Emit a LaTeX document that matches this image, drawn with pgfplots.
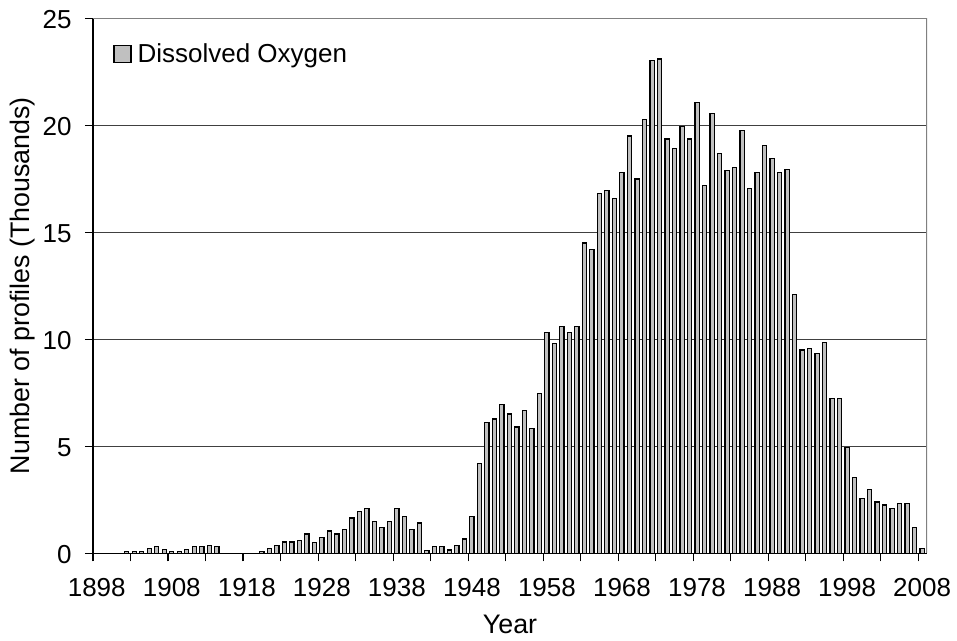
\documentclass[border=0pt]{standalone}
\usepackage{fontspec}
\setmainfont{Liberation Sans}
\usepackage{pgfplots}
\pgfplotsset{compat=1.18}
\definecolor{barfill}{HTML}{C0C0C0}
\definecolor{frame}{HTML}{808080}

% profiles per year, thousands
\pgfplotstableread{
year val
1902 0.08
1903 0.08
1904 0.08
1905 0.23
1906 0.31
1907 0.16
1908 0.08
1909 0.08
1910 0.16
1911 0.31
1912 0.31
1913 0.37
1914 0.31
1920 0.08
1921 0.23
1922 0.37
1923 0.53
1924 0.53
1925 0.61
1926 0.90
1927 0.52
1928 0.75
1929 1.04
1930 0.90
1931 1.12
1932 1.65
1933 1.95
1934 2.10
1935 1.48
1936 1.20
1937 1.48
1938 2.10
1939 1.73
1940 1.12
1941 1.42
1942 0.14
1943 0.30
1944 0.30
1945 0.15
1946 0.37
1947 0.67
1948 1.72
1949 4.19
1950 6.13
1951 6.28
1952 6.96
1953 6.51
1954 5.90
1955 6.66
1956 5.83
1957 7.46
1958 10.31
1959 9.80
1960 10.61
1961 10.31
1962 10.61
1963 14.50
1964 14.21
1965 16.82
1966 16.96
1967 16.59
1968 17.79
1969 19.50
1970 17.49
1971 20.26
1972 23.02
1973 23.10
1974 19.36
1975 18.91
1976 19.95
1977 19.36
1978 21.07
1979 17.20
1980 20.55
1981 18.68
1982 17.87
1983 18.01
1984 19.74
1985 17.04
1986 17.79
1987 19.07
1988 18.46
1989 17.79
1990 17.94
1991 12.10
1992 9.50
1993 9.56
1994 9.35
1995 9.86
1996 7.25
1997 7.25
1998 4.94
1999 3.54
2000 2.55
2001 2.99
2002 2.40
2003 2.26
2004 2.10
2005 2.32
2006 2.32
2007 1.20
2008 0.23
}\dodata

\begin{document}
\begin{tikzpicture}
\begin{axis}[
 at={(0,0)},anchor=south west,
 scale only axis,width=417pt,height=267.5pt,
 xmin=1897.5,xmax=2008.65,ymin=0,ymax=25,
 ybar,bar width=0.56,
 axis x line*=bottom,axis y line*=left,
 axis line style={-,black,line width=0.6pt},
 tick align=outside,major tick length=4pt,
 tick style={black,line width=0.6pt},
 xtick={1897.5,1902.5,...,2007.5},xticklabels={},
 extra x ticks={1898,1908,...,2008},
 extra x tick style={major tick length=0pt},
 ytick={0,5,...,25},
 ymajorgrids,grid style={black!75,line width=0.5pt},
 /pgf/number format/1000 sep={},
 /pgf/number format/assume math mode=true,
 tick label style={font=\fontsize{13}{15}\selectfont,inner sep=0pt},
 xticklabel style={anchor=north,yshift=-12.3pt},
 yticklabel style={anchor=east,xshift=-6.5pt,yshift=-0.8pt},
 xlabel={Year},ylabel={Number of profiles (Thousands)},
 every axis x label/.style={at={(rel axis cs:0.5,0)},anchor=center,yshift=-35.5pt,font=\fontsize{13.4}{15}\selectfont},
 every axis y label/.style={at={(rel axis cs:0,0.5)},rotate=90,anchor=center,yshift=35pt,font=\fontsize{13.4}{15}\selectfont},
 legend style={draw=none,fill=none,at={(rel axis cs:0,1)},anchor=north west,
   xshift=7pt,yshift=-8.5pt,font=\fontsize{13}{15}\selectfont},
 legend image code/.code={\draw[fill=barfill,draw=black,line width=0.6pt] (0pt,-4pt) rectangle (8.5pt,4.5pt);\path (9.5pt,0pt);},
]
\addplot[fill=barfill,draw=black,line width=0.6pt] table[x=year,y=val] {\dodata};
\addlegendentry{Dissolved Oxygen}
\draw[frame,line width=0.6pt] (rel axis cs:0,1) -- (rel axis cs:1,1) -- (rel axis cs:1,0);
\end{axis}
\pgfresetboundingbox
\useasboundingbox (-46.5pt,-43.85pt) rectangle (432pt,276.65pt);
\end{tikzpicture}
\end{document}
